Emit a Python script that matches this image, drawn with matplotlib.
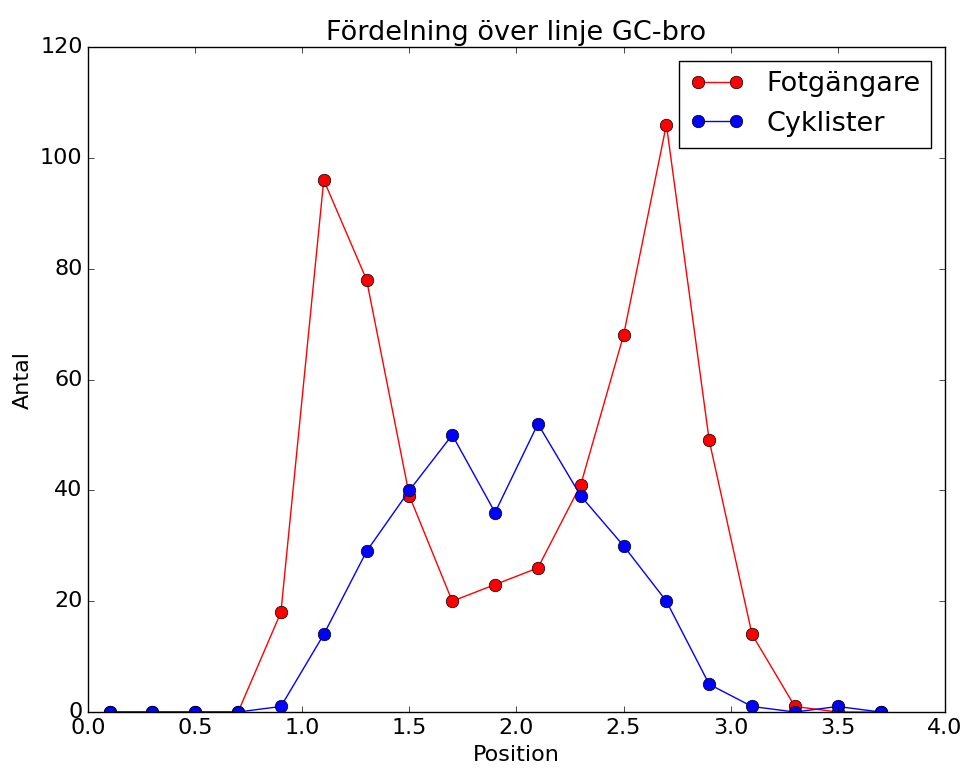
import matplotlib
matplotlib.use("Agg")
import matplotlib.pyplot as plt

plt.style.use('classic')

positions = [0.1, 0.3, 0.5, 0.7, 0.9, 1.1, 1.3, 1.5, 1.7, 1.9, 2.1, 2.3, 2.5, 2.7, 2.9, 3.1, 3.3, 3.5, 3.7]
fotgangare = [0, 0, 0, 0, 18, 96, 78, 39, 20, 23, 26, 41, 68, 106, 49, 14, 1, 0, 0]
cyklister = [0, 0, 0, 0, 1, 14, 29, 40, 50, 36, 52, 39, 30, 20, 5, 1, 0, 1, 0]

fig = plt.figure(figsize=(9.69, 7.71), dpi=100)
ax = fig.add_axes([0.091, 0.0765, 0.884, 0.8625])
ax.plot(positions, fotgangare, 'ro-', label='Fotgängare', markersize=9)
ax.plot(positions, cyklister, 'bo-', label='Cyklister', markersize=9)
ax.set_xlim(0, 4)
ax.set_ylim(0, 120)
ax.set_title('Fördelning över linje GC-bro', fontsize=19.5)
ax.set_xlabel('Position', fontsize=16)
ax.set_ylabel('Antal', fontsize=16)
ax.tick_params(labelsize=16)
ax.legend(loc='upper right', fontsize=19.5, numpoints=2)
fig.savefig('out.png', dpi=100)
